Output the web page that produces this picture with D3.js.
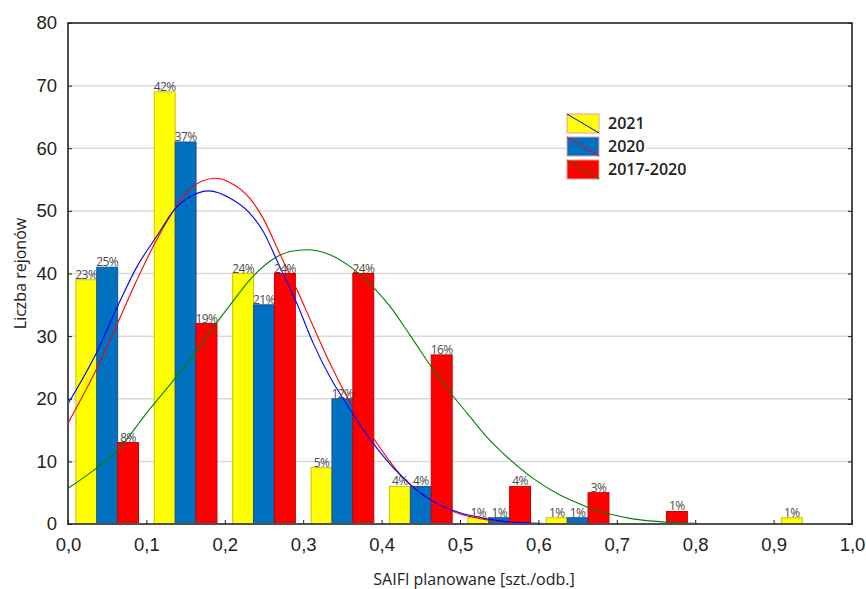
<!DOCTYPE html>
<html>
<head>
<meta charset="utf-8">
<script src="https://cdn.jsdelivr.net/npm/d3@7/dist/d3.min.js"></script>
<style>
  html, body { margin: 0; padding: 0; background: #fff; }
  svg { display: block; font-family: "Open Sans", "Noto Sans", sans-serif; }
</style>
</head>
<body>
<svg id="chart" width="866" height="589"></svg>
<script>
// Histogram bins (lower edge of each 0.1-wide class)
const binStarts = [0.0, 0.1, 0.2, 0.3, 0.4, 0.5, 0.6, 0.7, 0.8, 0.9];
const seriesNames = ["2021", "2020", "2017-2020"];

// Number of districts per class
const counts2021 = [39, 69, 40, 9, 6, 1, 1, 0, 0, 1];
const counts2020 = [41, 61, 35, 20, 6, 1, 1, 0, 0, 0];
const counts1720 = [13, 32, 40, 40, 27, 6, 5, 2, 0, 0];

// Percentage labels printed above the bars
const labels2021 = ["23%", "42%", "24%", "5%", "4%", "1%", "1%", null, null, "1%"];
const labels2020 = ["25%", "37%", "21%", "12%", "4%", "1%", "1%", null, null, null];
const labels1720 = ["8%", "19%", "24%", "24%", "16%", "4%", "3%", "1%", null, null];

// Fitted normal curves, sampled as [SAIFI, count]
const fit2021 = [[0.0, 19.2], [0.037, 27.5], [0.063, 34.7], [0.088, 41.1], [0.114, 46.1], [0.135, 50.1],
  [0.156, 52.3], [0.180, 53.2], [0.207, 52.0], [0.232, 49.6], [0.249, 46.7], [0.270, 41.1],
  [0.292, 35.2], [0.313, 28.8], [0.334, 23.5], [0.356, 19.0], [0.385, 13.6], [0.424, 7.8],
  [0.449, 5.0], [0.475, 3.0], [0.500, 1.8], [0.526, 1.05], [0.551, 0.5], [0.577, 0.22], [0.611, 0.05]];
const fit2020 = [[0.0, 16.1], [0.037, 24.9], [0.063, 32.0], [0.088, 39.0], [0.114, 45.6], [0.135, 50.1],
  [0.156, 53.6], [0.188, 55.2], [0.207, 54.5], [0.232, 52.0], [0.249, 48.8], [0.270, 43.2],
  [0.292, 37.4], [0.313, 31.5], [0.334, 25.7], [0.356, 20.3], [0.377, 16.1], [0.424, 7.9],
  [0.449, 5.0], [0.475, 2.9], [0.500, 1.6], [0.526, 0.85], [0.551, 0.4], [0.577, 0.15], [0.600, 0.05]];
const fit1720 = [[0.0, 5.7], [0.033, 8.6], [0.067, 12.3], [0.097, 17.2], [0.135, 23.0], [0.165, 27.8],
  [0.190, 32.2], [0.207, 35.0], [0.232, 39.0], [0.258, 42.0], [0.283, 43.5], [0.305, 43.8],
  [0.334, 43.0], [0.360, 41.1], [0.385, 38.4], [0.411, 34.7], [0.436, 30.2], [0.475, 23.0],
  [0.509, 17.7], [0.534, 13.9], [0.560, 10.7], [0.594, 7.2], [0.628, 4.6], [0.653, 3.2],
  [0.666, 2.5], [0.691, 1.6], [0.717, 0.9], [0.742, 0.5], [0.768, 0.27], [0.797, 0.1], [0.819, 0.05]];

const yTicks = [0, 10, 20, 30, 40, 50, 60, 70, 80];
const xTicks = [0.0, 0.1, 0.2, 0.3, 0.4, 0.5, 0.6, 0.7, 0.8, 0.9, 1.0];

const barFill = ["#ffff00", "#0070c0", "#ff0000"];
const barStroke = ["#c8c400", "#1d4f8c", "#c00000"];
const curveColor = ["#0000ff", "#ff0000", "#008000"];

const svg = d3.select("#chart");
const margin = { left: 68, right: 14, top: 23, bottom: 65 };
const W = 866, H = 589;

const x = d3.scaleLinear().domain([0, 1]).range([margin.left, W - margin.right]);
const y = d3.scaleLinear().domain([0, 80]).range([H - margin.bottom, margin.top]);

const xSub = d3.scaleBand().domain(seriesNames)
  .range([x(0.01) - x(0), x(0.09) - x(0)]).paddingInner(0).paddingOuter(0);

// Horizontal grid
svg.append("g").selectAll("line").data(yTicks.filter(d => d > 0 && d < 80)).join("line")
  .attr("x1", x(0)).attr("x2", x(1)).attr("y1", d => y(d)).attr("y2", d => y(d))
  .attr("stroke", "#d9d9d9").attr("stroke-width", 1.5);

// Bars
const allCounts = [counts2021, counts2020, counts1720];
const allLabels = [labels2021, labels2020, labels1720];
const barData = [];
seriesNames.forEach((s, si) => {
  binStarts.forEach((b, bi) => {
    barData.push({ series: s, si, bin: b, value: allCounts[si][bi], label: allLabels[si][bi] });
  });
});

svg.append("g").selectAll("rect").data(barData.filter(d => d.value > 0)).join("rect")
  .attr("x", d => x(d.bin) + xSub(d.series))
  .attr("y", d => y(d.value))
  .attr("width", xSub.bandwidth())
  .attr("height", d => y(0) - y(d.value))
  .attr("fill", d => barFill[d.si])
  .attr("stroke", d => barStroke[d.si])
  .attr("stroke-width", 1);

// Fitted curves
const line = d3.line().x(d => x(d[0])).y(d => y(d[1])).curve(d3.curveMonotoneX);
const fits = [fit1720, fit2020, fit2021];
const fitColors = [curveColor[2], curveColor[1], curveColor[0]];
svg.append("g").selectAll("path").data(fits).join("path")
  .attr("d", d => line(d))
  .attr("fill", "none")
  .attr("stroke", (d, i) => fitColors[i])
  .attr("stroke-width", 1.1);

// Percentage labels
svg.append("g").selectAll("text").data(barData.filter(d => d.label)).join("text")
  .attr("x", d => x(d.bin) + xSub(d.series) + xSub.bandwidth() / 2)
  .attr("y", d => y(d.value) - 1)
  .attr("text-anchor", "middle")
  .attr("font-size", 12)
  .attr("letter-spacing", -0.6)
  .attr("fill", "#4a4a4a")
  .text(d => d.label);

// Frame
svg.append("rect")
  .attr("x", x(0)).attr("y", y(80)).attr("width", x(1) - x(0)).attr("height", y(0) - y(80))
  .attr("fill", "none").attr("stroke", "#505050").attr("stroke-width", 2);

// Axes with inward ticks
const yAxis = d3.axisLeft(y).tickValues(yTicks).tickSize(-4).tickPadding(11).tickFormat(d3.format("d"));
const gy = svg.append("g").attr("transform", `translate(${x(0)},0)`).call(yAxis);
gy.select(".domain").remove();
gy.selectAll(".tick line").attr("stroke", "#222");
gy.selectAll("text").attr("font-size", 18.5).attr("fill", "#222");

const yAxisR = d3.axisRight(y).tickValues(yTicks).tickSize(-4).tickFormat("");
const gyr = svg.append("g").attr("transform", `translate(${x(1)},0)`).call(yAxisR);
gyr.select(".domain").remove();
gyr.selectAll(".tick line").attr("stroke", "#222");

const fmtX = d => d3.format(".1f")(d).replace(".", ",");
const xAxis = d3.axisBottom(x).tickValues(xTicks).tickSize(-4).tickPadding(14).tickFormat(fmtX);
const gx = svg.append("g").attr("transform", `translate(0,${y(0)})`).call(xAxis);
gx.select(".domain").remove();
gx.selectAll(".tick line").attr("stroke", "#222");
gx.selectAll("text").attr("font-size", 18.5).attr("fill", "#222");

// Axis titles
svg.append("text")
  .attr("transform", `translate(26,${(y(0) + y(80)) / 2}) rotate(-90)`)
  .attr("text-anchor", "middle").attr("font-size", 16).attr("fill", "#222")
  .text("Liczba rejonów");
svg.append("text")
  .attr("x", 474).attr("y", 585)
  .attr("text-anchor", "middle").attr("font-size", 16).attr("fill", "#222")
  .text("SAIFI planowane [szt./odb.]");

// Legend
const legend = svg.append("g").attr("transform", "translate(567,114)");
const items = legend.selectAll("g").data(seriesNames).join("g")
  .attr("transform", (d, i) => `translate(0,${i * 23})`);
items.append("rect").attr("class", "bg")
  .attr("x", -1).attr("y", -2).attr("width", 82).attr("height", 22).attr("fill", "#fff");
items.append("rect")
  .attr("width", 32).attr("height", 19)
  .attr("fill", (d, i) => barFill[i])
  .attr("stroke", "#e0a0a0").attr("stroke-width", 1);
items.append("line")
  .attr("x1", 0).attr("y1", 0).attr("x2", 32).attr("y2", 19)
  .attr("stroke", (d, i) => curveColor[i]).attr("stroke-width", 1);
items.append("text")
  .attr("x", 41).attr("y", 15)
  .attr("font-size", 16).attr("font-weight", 600).attr("fill", "#222")
  .text(d => d);
items.each(function () {
  const g = d3.select(this);
  const bb = g.select("text").node().getBBox();
  g.select("rect.bg").attr("width", bb.x + bb.width + 3);
});
</script>
</body>
</html>
